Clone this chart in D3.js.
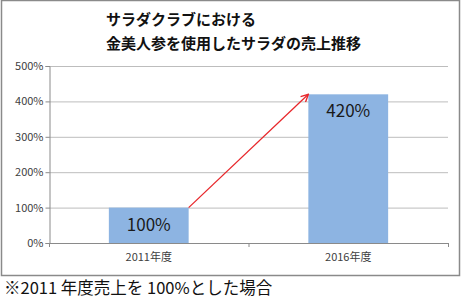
<!DOCTYPE html>
<html lang="ja">
<head>
<meta charset="UTF-8">
<title>サラダクラブ 金美人参 売上推移</title>
<script src="https://cdn.jsdelivr.net/npm/d3@7"></script>
<style>
  body { margin: 0; background: #fff; }
  svg { display: block; }
</style>
</head>
<body>
<svg id="chart"></svg>
<script>
// data
const categories = ["2011年度", "2016年度"];
const values = [100, 420];
const valueLabels = ["100%", "420%"];
const yTicks = [0, 100, 200, 300, 400, 500];
const titleLines = ["サラダクラブにおける", "金美人参を使用したサラダの売上推移"];
const footnote = "※2011 年度売上を 100%とした場合";

const width = 462, height = 301;
const font = "'Noto Sans CJK JP', 'Noto Sans', sans-serif";

const svg = d3.select("#chart").attr("width", width).attr("height", height);

// outer frame
svg.append("rect")
    .attr("x", 1.5).attr("y", 0.5)
    .attr("width", 458).attr("height", 275)
    .attr("fill", "#fff")
    .attr("stroke", "#8a8a8a")
    .attr("stroke-width", 1.5);

const plotLeft = 49, plotRight = 448, plotTop = 66, plotBottom = 243;

const x = d3.scaleBand().domain(categories).range([plotLeft, plotRight]).paddingInner(0.6).paddingOuter(0.3);
const y = d3.scaleLinear().domain([0, 500]).range([plotBottom, plotTop]);

// gridlines
svg.append("g").selectAll("line")
    .data(yTicks.filter(d => d > 0))
    .join("line")
    .attr("x1", plotLeft).attr("x2", plotRight)
    .attr("y1", d => y(d) + 0.5).attr("y2", d => y(d) + 0.5)
    .attr("stroke", "#bdbdbd");

// y axis
const yAxis = svg.append("g")
    .attr("transform", `translate(${plotLeft + 0.5},0)`)
    .call(d3.axisLeft(y).tickValues(yTicks).tickSize(4).tickFormat(d => d + "%"));
yAxis.select(".domain").attr("stroke", "#8a8a8a");
yAxis.selectAll(".tick line").attr("stroke", "#8a8a8a");
yAxis.selectAll(".tick text")
    .attr("x", -6)
    .attr("fill", "#404040")
    .style("font-family", font)
    .style("font-size", "11px");

// x axis
const xAxis = svg.append("g")
    .attr("transform", `translate(0,${plotBottom + 0.5})`)
    .call(d3.axisBottom(x).tickSize(0).tickPadding(10));
xAxis.select(".domain").attr("stroke", "#8a8a8a").attr("d", `M${plotLeft},0H${plotRight}`);
xAxis.selectAll(".tick text")
    .attr("fill", "#404040")
    .style("font-family", font)
    .style("font-size", "11px");
// category separators
const seps = [plotLeft, (plotLeft + plotRight) / 2, plotRight];
svg.append("g").selectAll("line")
    .data(seps)
    .join("line")
    .attr("x1", d => d + 0.5).attr("x2", d => d + 0.5)
    .attr("y1", plotBottom).attr("y2", plotBottom + 4)
    .attr("stroke", "#8a8a8a");

// bars
svg.append("g").selectAll("rect")
    .data(values)
    .join("rect")
    .attr("x", (d, i) => x(categories[i]))
    .attr("y", d => y(d))
    .attr("width", x.bandwidth())
    .attr("height", d => plotBottom - y(d))
    .attr("fill", "#8db4e2");

// value labels
svg.append("g").selectAll("text")
    .data(values)
    .join("text")
    .attr("x", (d, i) => x(categories[i]) + x.bandwidth() / 2)
    .attr("y", d => y(d) + 23)
    .attr("text-anchor", "middle")
    .attr("fill", "#1a1a1a")
    .style("font-family", font)
    .style("font-size", "17px")
    .text((d, i) => valueLabels[i]);

// arrow
svg.append("defs").append("marker")
    .attr("id", "arrowhead")
    .attr("viewBox", "0 0 10 10")
    .attr("refX", 9).attr("refY", 5)
    .attr("markerWidth", 7).attr("markerHeight", 7)
    .attr("orient", "auto")
    .append("path")
    .attr("d", "M1,1 L9,5 L1,9")
    .attr("fill", "none")
    .attr("stroke", "#e8262a")
    .attr("stroke-width", 1.5);

svg.append("line")
    .attr("x1", x(categories[0]) + x.bandwidth())
    .attr("y1", y(values[0]))
    .attr("x2", x(categories[1]))
    .attr("y2", y(values[1]))
    .attr("stroke", "#e8262a")
    .attr("stroke-width", 1.3)
    .attr("marker-end", "url(#arrowhead)");

// title
svg.append("g").selectAll("text")
    .data(titleLines)
    .join("text")
    .attr("x", 106)
    .attr("y", (d, i) => 25 + i * 24)
    .attr("fill", "#111")
    .style("font-family", font)
    .style("font-size", "15px")
    .style("font-weight", "bold")
    .text(d => d);

// footnote
svg.append("text")
    .attr("x", 4)
    .attr("y", 294)
    .attr("fill", "#111")
    .style("font-family", font)
    .style("font-size", "16.5px")
    .text(footnote);
</script>
</body>
</html>
